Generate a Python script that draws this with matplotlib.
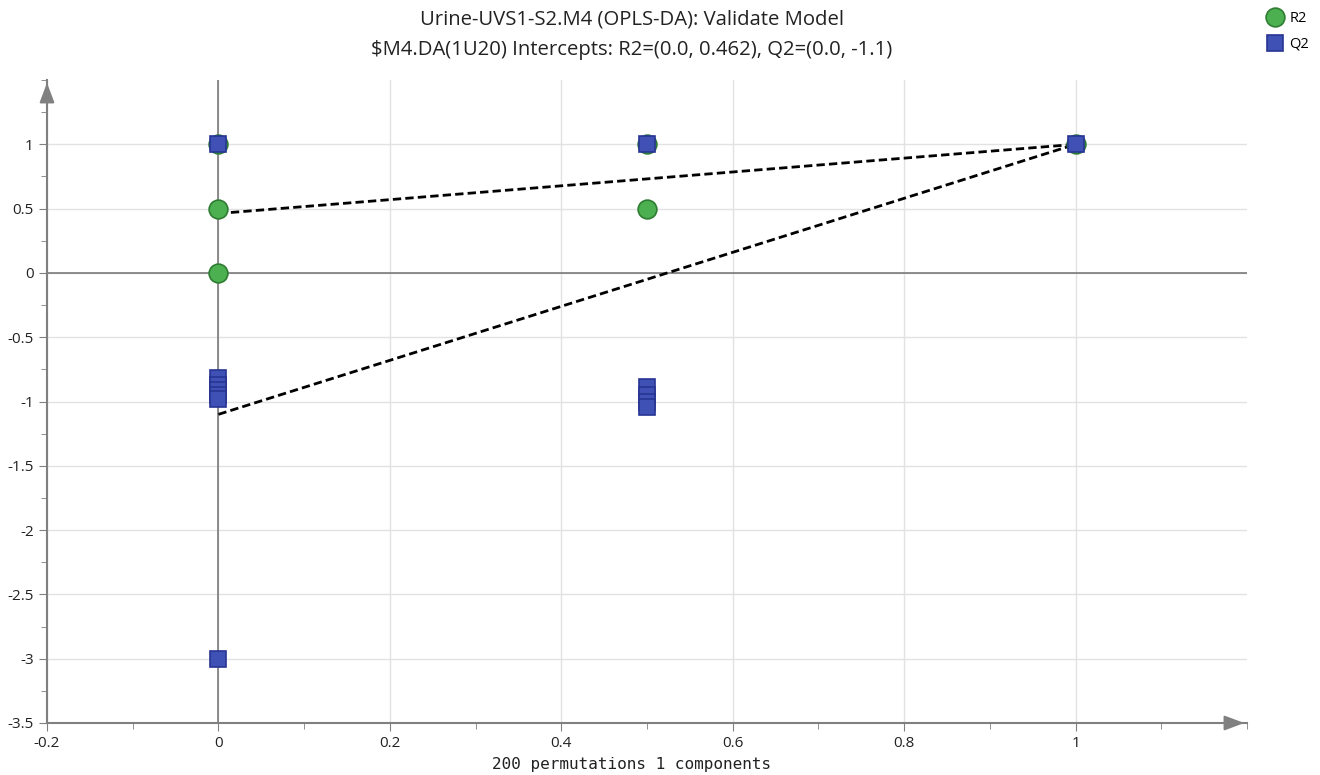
import matplotlib
matplotlib.use("Agg")
import matplotlib.pyplot as plt
from matplotlib.ticker import MultipleLocator, FuncFormatter
from matplotlib.lines import Line2D

# ---- data ----
r2_x = [0, 0, 0, 0.5, 0.5, 1]
r2_y = [1.0, 0.5, 0.0, 1.0, 0.5, 1.0]
q2_x = [0, 0, 0, 0, 0, 0, 0, 0.5, 0.5, 0.5, 0.5, 0.5, 1]
q2_y = [1.0, -0.82, -0.87, -0.91, -0.95, -0.98, -3.0, 1.0, -0.89, -0.95, -1.0, -1.04, 1.0]
r2_intercept = 0.462
q2_intercept = -1.1
title_lines = ["Urine-UVS1-S2.M4 (OPLS-DA): Validate Model",
               "$M4.DA(1U20) Intercepts: R2=(0.0, 0.462), Q2=(0.0, -1.1)"]
xlabel = "200 permutations 1 components"

plt.rcParams['font.family'] = ['Open Sans', 'DejaVu Sans']

fig = plt.figure(figsize=(13.2, 7.75), dpi=100)
ax = fig.add_axes([47/1320, 1-723/775, 1200/1320, (723-80)/775])

xmin, xmax, ymin, ymax = -0.2, 1.2, -3.5, 1.5
ax.set_xlim(xmin, xmax)
ax.set_ylim(ymin, ymax)

ax.xaxis.set_minor_locator(MultipleLocator(0.1))
ax.yaxis.set_minor_locator(MultipleLocator(0.25))

def fmt(v, pos):
    if abs(v) < 1e-9:
        return "0"
    s = f"{v:.1f}"
    if s.endswith(".0"):
        s = s[:-2]
    return s

xt = [-0.2, 0, 0.2, 0.4, 0.6, 0.8, 1.0]
yt = [-3.5, -3, -2.5, -2, -1.5, -1, -0.5, 0, 0.5, 1]
ax.set_xticks(xt)
ax.set_yticks(yt)
ax.xaxis.set_major_formatter(FuncFormatter(fmt))
ax.yaxis.set_major_formatter(FuncFormatter(fmt))

ax.grid(True, which='major', color='#e2e2e2', linewidth=1.0, zorder=0)
ax.set_axisbelow(True)

for s in ['top', 'right']:
    ax.spines[s].set_visible(False)
for s in ['left', 'bottom']:
    ax.spines[s].set_color('#808080')
    ax.spines[s].set_linewidth(1.5)

ax.tick_params(axis='both', which='major', length=6, color='#808080', labelsize=11, labelcolor='#222222')
ax.tick_params(axis='both', which='minor', length=4, color='#808080')

# zero lines
ax.axhline(0, color='#707070', linewidth=1.1, zorder=1)
ax.axvline(0, color='#707070', linewidth=1.1, zorder=1)

# axis arrows
ax.annotate('', xy=(xmax, ymin), xytext=(xmax - 0.03, ymin),
            arrowprops=dict(arrowstyle='-|>,head_length=1.2,head_width=0.45', color='#808080', lw=1.5),
            annotation_clip=False, zorder=5)
ax.annotate('', xy=(xmin, ymax), xytext=(xmin, ymax - 0.15),
            arrowprops=dict(arrowstyle='-|>,head_length=1.2,head_width=0.45', color='#808080', lw=1.5),
            annotation_clip=False, zorder=5)

# regression lines
ax.plot([0, 1], [r2_intercept, 1.0], color='black', linestyle='--', linewidth=2, dashes=(3, 1.5), zorder=3)
ax.plot([0, 1], [q2_intercept, 1.0], color='black', linestyle='--', linewidth=2, dashes=(3, 1.5), zorder=3)

green_face, green_edge = '#4caf50', '#2e7d32'
blue_face, blue_edge = '#3f51b5', '#283593'

ax.plot(r2_x, r2_y, linestyle='none', marker='o', markersize=13.5, markerfacecolor=green_face,
        markeredgecolor=green_edge, markeredgewidth=1.2, zorder=4)
ax.plot(q2_x, q2_y, linestyle='none', marker='s', markersize=11.5, markerfacecolor=blue_face,
        markeredgecolor=blue_edge, markeredgewidth=1.2, zorder=4)

fig.text(632/1320, 1-19/775, title_lines[0], ha='center', va='center', fontsize=14.6, color='#222222')
fig.text(632/1320, 1-50/775, title_lines[1], ha='center', va='center', fontsize=14.6, color='#222222')

fig.text(632/1320, 1-765/775, xlabel, ha='center', va='center', fontsize=11.5,
         family='DejaVu Sans Mono', color='#222222')

handles = [Line2D([], [], linestyle='none', marker='o', markersize=13.5, markerfacecolor=green_face,
                  markeredgecolor=green_edge, markeredgewidth=1.2),
           Line2D([], [], linestyle='none', marker='s', markersize=12, markerfacecolor=blue_face,
                  markeredgecolor=blue_edge, markeredgewidth=1.2)]
fig.legend(handles, ['R2', 'Q2'], loc='upper right', bbox_to_anchor=(1.0, 1.0), frameon=False,
           fontsize=10.5, handletextpad=0.3, labelspacing=0.75, borderpad=0.25, handlelength=1.3)

fig.savefig('out.png', dpi=100)
